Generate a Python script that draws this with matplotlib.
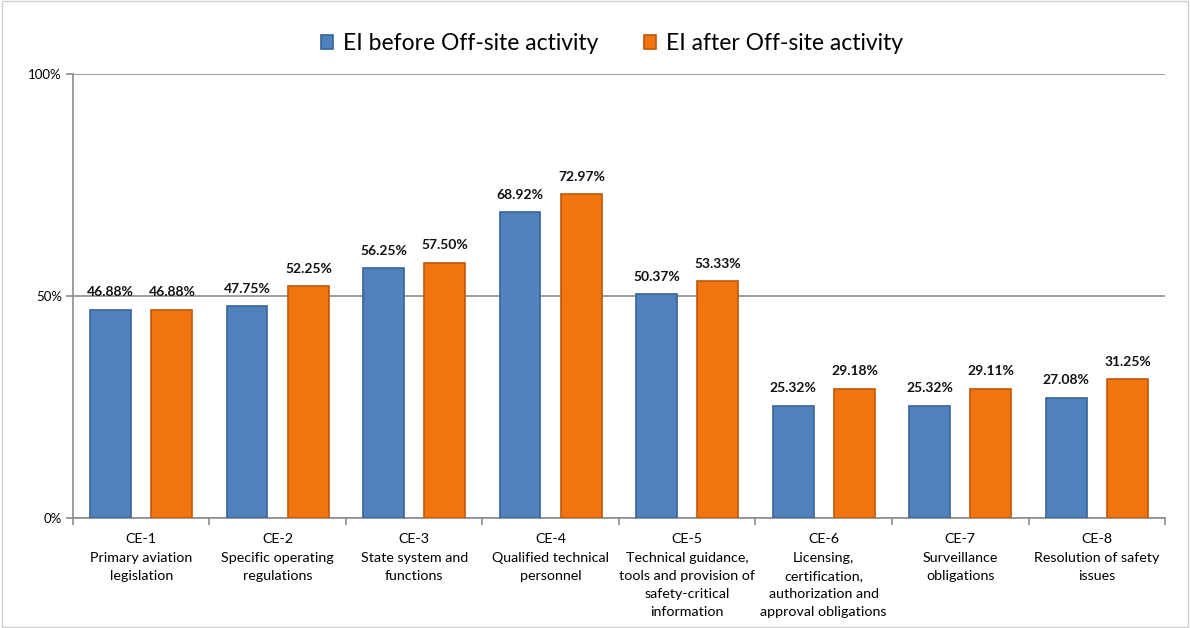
import matplotlib
matplotlib.use("Agg")
import matplotlib.pyplot as plt
import numpy as np
from matplotlib.ticker import FuncFormatter

categories = ["CE-1\nPrimary aviation\nlegislation",
              "CE-2\nSpecific operating\nregulations",
              "CE-3\nState system and\nfunctions",
              "CE-4\nQualified technical\npersonnel",
              "CE-5\nTechnical guidance,\ntools and provision of\nsafety-critical\ninformation",
              "CE-6\nLicensing,\ncertification,\nauthorization and\napproval obligations",
              "CE-7\nSurveillance\nobligations",
              "CE-8\nResolution of safety\nissues"]
before = [46.88, 47.75, 56.25, 68.92, 50.37, 25.32, 25.32, 27.08]
after = [46.88, 52.25, 57.50, 72.97, 53.33, 29.18, 29.11, 31.25]
series_names = ["EI before Off-site activity", "EI after Off-site activity"]

plt.rcParams['font.family'] = ['Lato', 'DejaVu Sans']

fig = plt.figure(figsize=(11.9, 6.28), dpi=100)
ax = fig.add_axes([0.0613, 0.175, 0.9177, 0.707])

x = np.arange(len(categories))
w = 0.30
off = 0.225
b1 = ax.bar(x - off, before, w, color="#4F81BD", edgecolor="#3A6496", linewidth=1.2,
            label=series_names[0], zorder=3)
b2 = ax.bar(x + off, after, w, color="#F07510", edgecolor="#C0580A", linewidth=1.2,
            label=series_names[1], zorder=3)

for rects, vals in ((b1, before), (b2, after)):
    for r, v in zip(rects, vals):
        ax.text(r.get_x() + r.get_width() / 2, v + 2.6, f"{v:.2f}%", ha="center", va="bottom",
                fontsize=10, fontweight="bold", color="#111111", zorder=4)

ax.set_xlim(-0.5, len(categories) - 0.5)
ax.set_ylim(0, 100)
ax.set_yticks([0, 50, 100])
ax.yaxis.set_major_formatter(FuncFormatter(lambda v, p: f"{int(v)}%"))
ax.yaxis.grid(True, color="#8C8C8C", linewidth=1.2, zorder=1)
ax.set_xticks(x)
ax.set_xticklabels(categories, fontsize=10.3, linespacing=1.62)
ax.set_xticks(np.arange(-0.5, len(categories) + 0.5, 1), minor=True)
ax.tick_params(axis="x", which="major", length=0, pad=11)
ax.tick_params(axis="x", which="minor", length=5, color="#8C8C8C", width=1.2)
ax.tick_params(axis="y", length=5, color="#8C8C8C", width=1.2, labelsize=9.5, pad=3)

for s in ("top", "right"):
    ax.spines[s].set_visible(False)
for s in ("left", "bottom"):
    ax.spines[s].set_color("#8C8C8C")
    ax.spines[s].set_linewidth(1.2)

fig.legend(handles=[b1, b2], labels=series_names, loc="center", bbox_to_anchor=(0.514, 0.93),
           ncol=2, frameon=False, fontsize=16.5, handlelength=0.55, handleheight=0.55,
           handletextpad=0.4, columnspacing=2.0)

fig.patches.append(plt.Rectangle((0.002, 0.002), 0.996, 0.996, transform=fig.transFigure,
                                 fill=False, edgecolor="#D0D0D0", linewidth=1))

fig.savefig("out.png", dpi=100)
